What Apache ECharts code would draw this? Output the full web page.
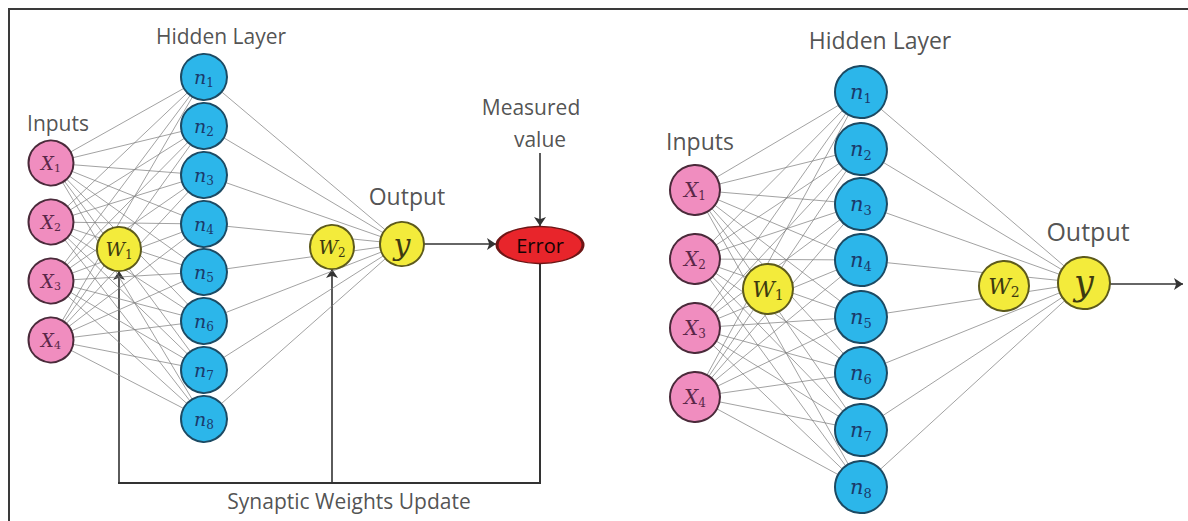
<!DOCTYPE html>
<html>
<head>
<meta charset="utf-8">
<script src="https://cdn.jsdelivr.net/npm/echarts@6/dist/echarts.min.js"></script>
<style>
  html, body { margin: 0; padding: 0; background: #fff; }
  #chart { width: 1188px; height: 521px; }
</style>
</head>
<body>
<div id="chart"></div>
<script>
// ---------- content (labels / texts) ----------
const inputLetters = ['X', 'X', 'X', 'X'];
const inputSubs = ['1', '2', '3', '4'];
const hiddenLetters = ['n', 'n', 'n', 'n', 'n', 'n', 'n', 'n'];
const hiddenSubs = ['1', '2', '3', '4', '5', '6', '7', '8'];
const weightLetters = ['W', 'W'];
const weightSubs = ['1', '2'];
const outputLabel = 'y';
const errorLabel = 'Error';
const leftTexts = ['Hidden Layer', 'Inputs', 'Output', 'Measured', 'value', 'Synaptic Weights Update'];
const rightTexts = ['Hidden Layer', 'Inputs', 'Output'];

// ---------- layout (diagram coordinates, in a 1188 x 521 data space) ----------
const LAYOUT = {
  left: {
    inX: 51, inY: [163, 222, 281, 340],
    hidX: 204, hidY: [77, 126, 175, 224, 272, 321, 370, 419],
    w: [[119, 249], [332, 247]], out: [402, 244], err: [540, 245],
    inD: 45, hidD: 46, wD: 44, outD: 44, errSize: [86, 37],
    fIn: 18, fHid: 19, fW: 19, fOut: 30,
    texts: [[221, 36, 21], [58, 123, 21], [407, 196, 23], [531, 107, 21], [540, 139, 21], [349, 501, 21]]
  },
  right: {
    inX: 695, inY: [190, 259, 328, 397],
    hidX: 861, hidY: [92, 149, 204, 260, 317, 373, 430, 487],
    w: [[768, 289], [1004, 286]], out: [1084, 283],
    inD: 50, hidD: 52, wD: 50, outD: 52,
    fIn: 20, fHid: 21, fW: 22, fOut: 35,
    texts: [[880, 40, 23], [700, 141, 23], [1088, 231, 25]]
  }
};
const ARROWS = [
  [[540, 153], [540, 226]],
  [[424, 244], [496, 244]],
  [[119, 483], [119, 271]],
  [[332, 483], [332, 269]],
  [[1110, 284], [1183, 284]]
];
const PLAIN_LINES = [
  [[540, 263], [540, 483]],
  [[541, 483], [118, 483]]
];
const FRAME = [[9, 521], [9, 9], [1188, 9]];

// ---------- styles ----------
const STY = {
  pink: { color: '#F08DBF', borderColor: '#4a2a3a', borderWidth: 2, text: '#5a2748' },
  blue: { color: '#2CB6EA', borderColor: '#1c4a63', borderWidth: 2, text: '#1b3a6b' },
  yellow: { color: '#F3EB3B', borderColor: '#5d5a1c', borderWidth: 2, text: '#3d3a10' },
  red: { color: '#E8252B', borderColor: '#6d1616', borderWidth: 2, text: '#140303' }
};
const mathFont = 'DejaVu Serif';
const sansFont = 'Open Sans';

function mathLabel(letter, sub, fs, color) {
  return {
    show: true, position: 'inside',
    formatter: sub ? '{m|' + letter + '}{s|' + sub + '}' : '{m|' + letter + '}',
    rich: {
      m: { fontFamily: mathFont, fontStyle: 'italic', fontSize: fs, color: color, lineHeight: fs + 4, verticalAlign: 'middle' },
      s: { fontFamily: mathFont, fontStyle: 'normal', fontSize: Math.round(fs * 0.62), color: color, lineHeight: Math.round(fs * 0.62) + 2, verticalAlign: 'bottom' }
    }
  };
}

function node(id, pos, size, sty, label) {
  return {
    id: id, name: id, value: pos, symbolSize: size,
    itemStyle: { color: sty.color, borderColor: sty.borderColor, borderWidth: sty.borderWidth },
    label: label
  };
}

const nodes = [];
const links = [];
['left', 'right'].forEach(function (side) {
  const L = LAYOUT[side];
  const p = side[0];
  inputLetters.forEach(function (lab, i) {
    nodes.push(node(p + 'X' + i, [L.inX, L.inY[i]], L.inD, STY.pink, mathLabel(lab, inputSubs[i], L.fIn, STY.pink.text)));
  });
  hiddenLetters.forEach(function (lab, j) {
    nodes.push(node(p + 'N' + j, [L.hidX, L.hidY[j]], L.hidD, STY.blue, mathLabel(lab, hiddenSubs[j], L.fHid, STY.blue.text)));
  });
  weightLetters.forEach(function (lab, k) {
    nodes.push(node(p + 'W' + k, L.w[k], L.wD, STY.yellow, mathLabel(lab, weightSubs[k], L.fW, STY.yellow.text)));
  });
  nodes.push(node(p + 'Y', L.out, L.outD, STY.yellow, mathLabel(outputLabel, '', L.fOut, STY.yellow.text)));
  if (L.err) {
    nodes.push(node(p + 'E', L.err, L.errSize, STY.red, {
      show: true, position: 'inside', formatter: '{e|' + errorLabel + '}',
      rich: { e: { color: STY.red.text, fontSize: 20, fontFamily: sansFont } }
    }));
  }
  inputLetters.forEach(function (_, i) {
    hiddenLetters.forEach(function (__, j) {
      links.push({ source: p + 'X' + i, target: p + 'N' + j });
    });
  });
  hiddenLetters.forEach(function (_, j) {
    links.push({ source: p + 'N' + j, target: p + 'Y' });
  });
});

const textData = [];
LAYOUT.left.texts.forEach(function (t, i) {
  textData.push({ value: [t[0], t[1]], label: { formatter: leftTexts[i], fontSize: t[2] } });
});
LAYOUT.right.texts.forEach(function (t, i) {
  textData.push({ value: [t[0], t[1]], label: { formatter: rightTexts[i], fontSize: t[2] } });
});

const chart = echarts.init(document.getElementById('chart'), null, { renderer: 'svg' });
chart.setOption({
  animation: false,
  backgroundColor: '#ffffff',
  grid: { left: 0, right: 0, top: 0, bottom: 0 },
  xAxis: { type: 'value', min: 0, max: 1188, show: false },
  yAxis: { type: 'value', min: 0, max: 521, inverse: true, show: false },
  series: [
    {
      type: 'lines', coordinateSystem: 'cartesian2d', polyline: true, silent: true, z: 1,
      lineStyle: { color: '#3a3a3a', width: 2, opacity: 1 },
      data: [{ coords: FRAME }]
    },
    {
      type: 'graph', coordinateSystem: 'cartesian2d', layout: 'none', z: 3,
      symbol: 'circle', silent: true,
      lineStyle: { color: '#7e7e7e', width: 0.8, opacity: 0.9, curveness: 0 },
      data: nodes, links: links
    },
    {
      type: 'lines', coordinateSystem: 'cartesian2d', silent: true, z: 2,
      symbol: ['none', 'none'],
      lineStyle: { color: '#333333', width: 2, opacity: 1 },
      data: PLAIN_LINES.map(function (c) { return { coords: c }; })
    },
    {
      type: 'lines', coordinateSystem: 'cartesian2d', silent: true, z: 2,
      symbol: ['none', 'arrow'], symbolSize: 9,
      lineStyle: { color: '#333333', width: 1.6, opacity: 1 },
      data: ARROWS.map(function (c) { return { coords: c }; })
    },
    {
      type: 'scatter', silent: true, z: 5, symbolSize: 1,
      itemStyle: { color: 'rgba(0,0,0,0)' },
      label: { show: true, position: 'inside', color: '#262626', fontFamily: sansFont },
      data: textData
    }
  ]
});
</script>
</body>
</html>
